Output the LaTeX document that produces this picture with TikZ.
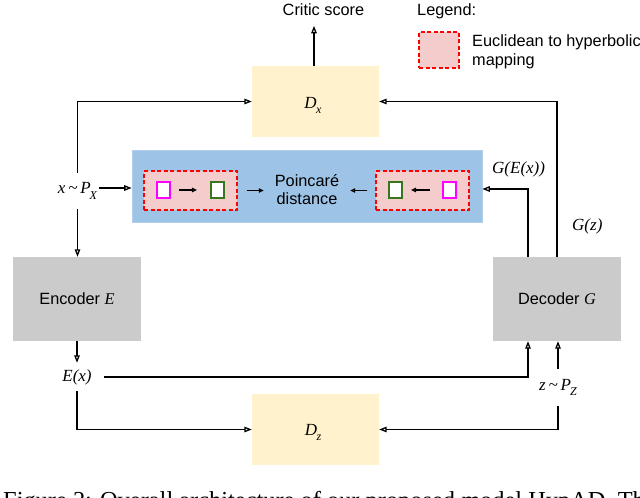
\documentclass[tikz,border=0pt]{standalone}
\usepackage{fontspec}
\setmainfont{Liberation Sans}
\newfontfamily\tms{Liberation Serif}
\usetikzlibrary{arrows.meta}
\definecolor{dyel}{HTML}{FFF2CC}
\definecolor{pblue}{HTML}{9DC3E6}
\definecolor{mpink}{HTML}{F4CCCC}
\definecolor{gbox}{HTML}{CBCBCB}
\definecolor{dgreen}{HTML}{38761D}
\definecolor{magn}{HTML}{FF00FF}
\newcommand{\mlab}{\tms\itshape\fontsize{17}{17}\selectfont}
\newcommand{\lowsub}[1]{\raisebox{-5.5pt}{\tms\itshape\fontsize{12}{12}\selectfont #1}}
\begin{document}
\begin{tikzpicture}[x=1pt,y=-1pt,
  font=\fontsize{16.3}{18}\selectfont,
  conn/.style={line width=1.3pt, -{Triangle[open,length=7.5pt,width=5.5pt]}},
  smallarr/.style={line width=1.2pt, -{Triangle[open,length=5pt,width=4.5pt]}},
  disc/.style={fill=dyel, minimum width=127pt, minimum height=71pt, inner sep=0},
  grey/.style={fill=gbox, minimum width=128pt, minimum height=84pt, inner sep=0},
  mapbox/.style={fill=mpink, draw=red, dash pattern=on 4pt off 2.5pt, line width=1.1pt, minimum width=93pt, minimum height=39pt, inner sep=0},
  cell/.style={fill=white, line width=1.6pt, minimum width=13.5pt, minimum height=16.5pt, inner sep=0},
  lab/.style={inner sep=0}
]
\useasboundingbox (0,0) rectangle (640,498);
\clip (0,0) rectangle (640,498);

% boxes
\node[disc] (dx) at (315.5,101.5) {};
\node[lab, anchor=base] (dxl) at (313,108) {\mlab D\kern-0.5pt\lowsub{x}};
\node[disc] (dz) at (315.5,429.5) {};
\node[lab, anchor=base] (dzl) at (313,435) {\mlab D\kern-0.5pt\lowsub{z}};
\node[grey] (enc) at (77,299) {Encoder {\mlab\fontsize{16.3}{17}\selectfont E}};
\node[grey] (dec) at (557,299) {Decoder {\mlab\fontsize{16.3}{17}\selectfont G}};
\node[fill=pblue, draw=pblue!80!white, line width=0.6pt, minimum width=350pt, minimum height=72pt, inner sep=0] (blue) at (307,186) {};

% mapping boxes
\node[mapbox] (pinkL) at (190.5,190.5) {};
\node[cell, draw=magn] (mL) at (163.5,190) {};
\node[cell, draw=dgreen] (gL) at (217.5,190) {};
\node[mapbox] (pinkR) at (422.5,190.5) {};
\node[cell, draw=dgreen] (gR) at (395.5,190) {};
\node[cell, draw=magn] (mR) at (449.5,190) {};
\node[lab, align=center, minimum width=86pt] (poinc) at (307,190) {Poincaré\\distance};

% texts
\node[lab, anchor=base] (critic) at (323.5,15) {Critic score};
\node[lab, anchor=base west] (leg) at (417,15) {Legend:};
\node[mapbox, minimum width=40pt, minimum height=36pt] (legbox) at (439,50) {};
\node[lab, anchor=base west] (legt1) at (472,46) {Euclidean to hyperbolic};
\node[lab, anchor=base west] (legt2) at (472,65) {mapping};
\node[lab, minimum width=43pt, minimum height=36pt] (xlab) at (77.5,191) {\mlab x\,\textasciitilde\,P\kern-1pt\lowsub{X}};
\node[lab, minimum width=54pt, minimum height=28pt] (elab) at (77,377) {\mlab E(x)};
\node[lab, minimum width=44pt, minimum height=37pt] (zlab) at (558,387.5) {\mlab z\,\textasciitilde\,P\kern-1pt\lowsub{Z}};
\node[lab, anchor=base west] (gex) at (492,173) {\mlab G(E(x))};
\node[lab, anchor=base west] (gz) at (572,230) {\mlab G(z)};
\node[lab, anchor=base west, font=\tms\fontsize{24.4}{24}\selectfont] (cap) at (3,508) {Figure 2: Overall architecture of our proposed model HypAD. The};

% connectors
\draw[conn] ([xshift=-1.5pt]dx.north) -- ++(0,-40);
\draw[conn] (xlab.north) |- (dx.west);
\draw[conn] ([yshift=3pt]xlab.east) -- ([yshift=3pt]xlab.east -| blue.west);
\draw[conn] (xlab.south) -- (xlab.south |- enc.north);
\draw[conn] (enc.south) -- (elab.north);
\draw[conn] (elab.east) -| ([xshift=-29pt]dec.south);
\draw[conn] (elab.south) |- (dz.west);
\draw[conn] (zlab.north) -- (zlab.north |- dec.south);
\draw[conn] (zlab.south) |- (dz.east);
\draw[conn] ([xshift=-29pt]dec.north) |- ([yshift=-3pt]blue.east);
\draw[conn] (dec.north) |- (dx.east);

\draw[smallarr, shorten <=8pt, shorten >=13pt] (mL.east) -- (gL.west);
\draw[smallarr, shorten <=9pt] (pinkL.east) -- (poinc.west |- pinkL.east);
\draw[smallarr, shorten <=12pt, shorten >=8pt] (mR.west) -- (gR.east);
\draw[smallarr, shorten <=8pt] (pinkR.west) -- (poinc.east |- pinkR.west);
\end{tikzpicture}
\end{document}
